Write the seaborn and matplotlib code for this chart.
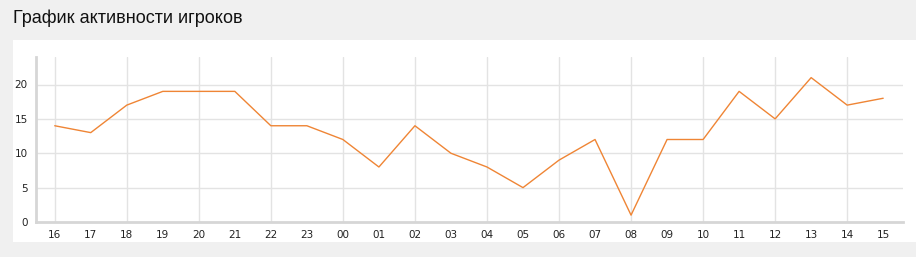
import matplotlib
matplotlib.use("Agg")
import matplotlib.pyplot as plt
import seaborn as sns
import pandas as pd
from matplotlib.patches import Rectangle

hours = ["16", "17", "18", "19", "20", "21", "22", "23", "00", "01", "02", "03",
         "04", "05", "06", "07", "08", "09", "10", "11", "12", "13", "14", "15"]
players = [14, 13, 17, 19, 19, 19, 14, 14, 12, 8, 14, 10,
           8, 5, 9, 12, 1, 12, 12, 19, 15, 21, 17, 18]
y_ticks = [0, 5, 10, 15, 20]
title = "График активности игроков"

df = pd.DataFrame({"pos": range(len(hours)), "hour": hours, "players": players})

sns.set_theme(style="white")
plt.rcParams["font.family"] = ["DejaVu Sans"]

W, H = 916, 257
fig = plt.figure(figsize=(W / 100, H / 100), dpi=100)
fig.patch.set_facecolor("#f0f0f0")
panel = Rectangle((13 / W, 1 - 242 / H), 1 - 13 / W, 202 / H,
                  transform=fig.transFigure, facecolor="white",
                  edgecolor="none", zorder=-5)
fig.patches.append(panel)
fig.text(13 / W, 1 - 18 / H, title, fontsize=13, family=["Liberation Sans"],
         color="#111111", va="center", ha="left")

ax = fig.add_axes([36 / W, 35 / H, (903 - 36) / W, (222 - 57) / H])
ax.set_zorder(2)
ax.set_facecolor("white")
sns.lineplot(data=df, x="pos", y="players", ax=ax, color="#ef8535",
             linewidth=1.0, zorder=3)

ax.set_xlim(-0.52, len(hours) - 0.45)
ax.set_ylim(0, 24)
ax.set_xticks(list(df["pos"]))
ax.set_xticklabels(hours)
ax.set_yticks(y_ticks)
ax.set_xlabel("")
ax.set_ylabel("")

for i in range(0, len(hours), 2):
    ax.axvline(i, color="#e3e3e3", linewidth=1.0, zorder=1)
for v in y_ticks[1:]:
    ax.axhline(v, color="#e3e3e3", linewidth=1.0, zorder=1)

for s in ["top", "right"]:
    ax.spines[s].set_visible(False)
for s in ["left", "bottom"]:
    ax.spines[s].set_color("#d6d6d6")
    ax.spines[s].set_linewidth(2.0)

ax.tick_params(axis="both", labelsize=7.5, colors="#d6d6d6", labelcolor="#222222",
               length=3, width=1, pad=3)

fig.savefig("out.png", dpi=100, facecolor=fig.get_facecolor())
